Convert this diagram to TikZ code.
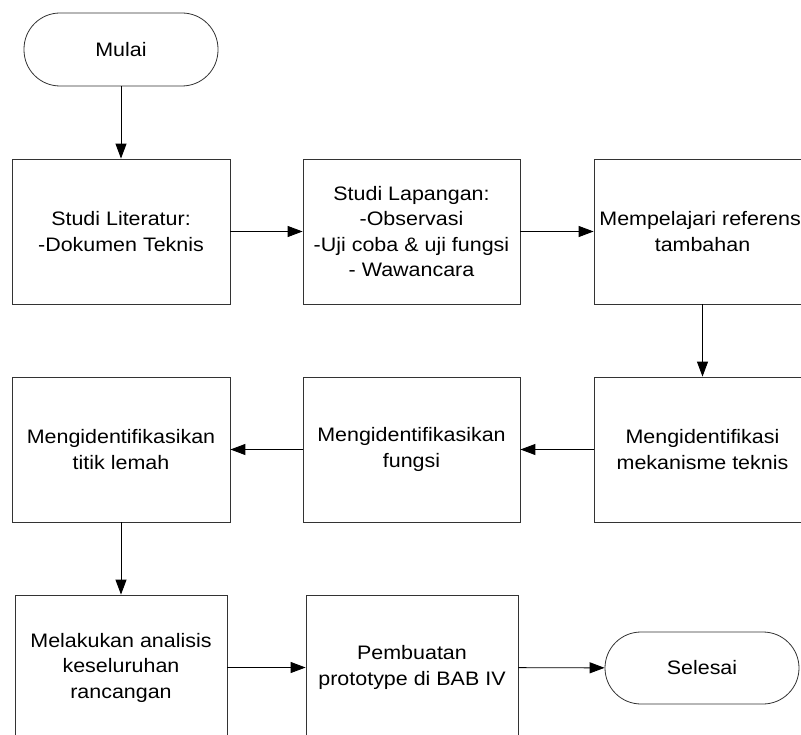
\documentclass[tikz,border=0pt]{standalone}
\usepackage{fontspec}
\setmainfont{Liberation Sans}[FakeStretch=1.10]
\usetikzlibrary{arrows.meta,positioning}

\begin{document}
\begin{tikzpicture}[x=1pt, y=-1pt,
    proses/.style={draw=black!80, line width=0.8pt, minimum width=218pt, minimum height=145pt,
        inner sep=0pt, align=center, font=\fontsize{19.5}{25.5}\selectfont},
    terminal/.style={draw=black!80, line width=0.8pt, rounded corners=36pt, minimum width=194pt,
        minimum height=73pt, inner sep=0pt, font=\fontsize{19.5}{25.5}\selectfont},
    panah/.style={draw, line width=0.9pt, -{Triangle[length=15pt, width=11pt]}}]
    \useasboundingbox (0,0) rectangle (801,735);
    \clip (0,0) rectangle (801,735);

    % Start
    \node [terminal] (mulai) at (121, 49.5) {Mulai};

    % Row 1
    \node [proses] (lit) at (121, 231.5) {Studi Literatur:\\-Dokumen Teknis};
    \node [proses, minimum width=217pt] (lap) at (411.5, 231.5)
        {Studi Lapangan:\\-Observasi\\-Uji coba \& uji fungsi\\- Wawancara};
    \node [proses, minimum width=217pt] (ref) at (702.5, 231.5) {Mempelajari referensi\\tambahan};

    % Row 2
    \node [proses, minimum width=217pt] (mek) at (702.5, 449.5) {Mengidentifikasi\\mekanisme teknis};
    \node [proses, minimum width=217pt] (fung) at (411.5, 449.5) {Mengidentifikasikan\\fungsi};
    \node [proses] (lemah) at (121, 449.5) {Mengidentifikasikan\\titik lemah};

    % Row 3
    \node [proses, minimum width=212pt] (anal) at (121, 667.5)
        {Melakukan analisis\\keseluruhan\\rancangan};
    \node [proses, minimum width=212pt] (proto) at (412, 667.5) {Pembuatan\\prototype di BAB IV};
    \node [terminal, minimum height=72pt] (selesai) at (702, 668) {Selesai};

    % Flow
    \draw [panah] (mulai) -- (lit);
    \draw [panah] (lit) -- (lap);
    \draw [panah] (lap) -- (ref);
    \draw [panah] (ref) -- (mek);
    \draw [panah] (mek) -- (fung);
    \draw [panah] (fung) -- (lemah);
    \draw [panah] (lemah) -- (anal);
    \draw [panah] (anal) -- (proto);
    \draw [panah] (proto) -- (selesai);
\end{tikzpicture}
\end{document}
